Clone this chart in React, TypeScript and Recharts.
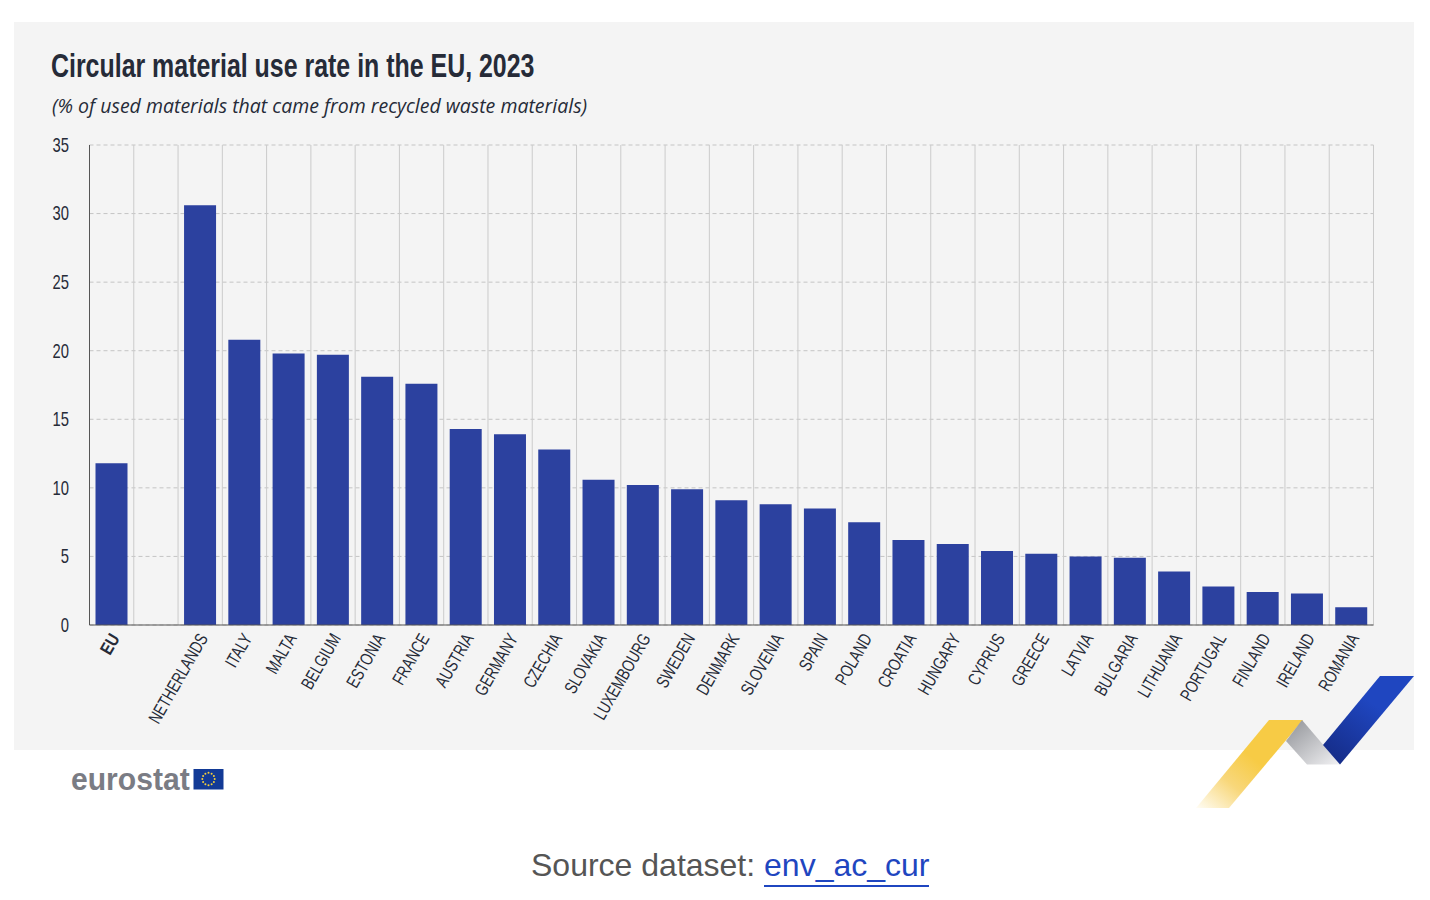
import React from "react";
import { BarChart, Bar, XAxis, YAxis, CartesianGrid } from "recharts";

const categories = ["EU", " ", "NETHERLANDS", "ITALY", "MALTA", "BELGIUM", "ESTONIA", "FRANCE", "AUSTRIA", "GERMANY", "CZECHIA", "SLOVAKIA", "LUXEMBOURG", "SWEDEN", "DENMARK", "SLOVENIA", "SPAIN", "POLAND", "CROATIA", "HUNGARY", "CYPRUS", "GREECE", "LATVIA", "BULGARIA", "LITHUANIA", "PORTUGAL", "FINLAND", "IRELAND", "ROMANIA"];
const values: (number | null)[] = [11.8, null, 30.6, 20.8, 19.8, 19.7, 18.1, 17.6, 14.3, 13.9, 12.8, 10.6, 10.2, 9.9, 9.1, 8.8, 8.5, 7.5, 6.2, 5.9, 5.4, 5.2, 5.0, 4.9, 3.9, 2.8, 2.4, 2.3, 1.3];
const yTicks = [0, 5, 10, 15, 20, 25, 30, 35];
const data = categories.map((name, i) => ({ name, value: values[i] }));

const SANS = '"Liberation Sans", sans-serif';
const INK = "#262b38";

const XTick = (props: any) => {
  const { x, y, payload } = props;
  const isEu = payload.value === "EU";
  return (
    <text
      transform={`translate(${x + 3} ${y + 2}) rotate(-60) scale(${isEu ? 0.82 : 0.75} 1)`}
      textAnchor="end"
      dominantBaseline="central"
      fontFamily={SANS}
      fontSize={18}
      fontWeight={isEu ? 700 : 400}
      fill={INK}
    >
      {payload.value}
    </text>
  );
};

const YTick = (props: any) => {
  const { y, payload } = props;
  return (
    <text transform={`translate(69 ${y}) scale(0.74 1)`} textAnchor="end" dominantBaseline="central" fontFamily={SANS} fontSize={20} fill={INK}>
      {payload.value}
    </text>
  );
};

const bandLines = ({ offset }: any) =>
  Array.from({ length: categories.length + 1 }, (_, i) => offset.left + (i * offset.width) / categories.length);

const stars = Array.from({ length: 12 }, (_, i) => i);

export default function App() {
  return (
    <div style={{ position: "absolute", left: 0, top: 0, width: 1430, height: 900, background: "#fff", overflow: "hidden" }}>
      <div style={{ position: "absolute", left: 14, top: 22, width: 1400, height: 728, background: "#f4f4f4" }} />
      <svg width={1430} height={900} style={{ position: "absolute", left: 0, top: 0 }}>
        <defs>
          <linearGradient id="yel" x1="0" y1="1" x2="0.55" y2="0.45">
            <stop offset="0" stopColor="#fffdf5" />
            <stop offset="0.55" stopColor="#f8d77a" />
            <stop offset="1" stopColor="#f7cb45" />
          </linearGradient>
          <linearGradient id="gry" x1="0" y1="0" x2="1" y2="1">
            <stop offset="0" stopColor="#8f9196" />
            <stop offset="1" stopColor="#f2f2f4" />
          </linearGradient>
          <linearGradient id="blu" x1="0.1" y1="1" x2="0.6" y2="0.35">
            <stop offset="0" stopColor="#152b85" />
            <stop offset="1" stopColor="#1f46c0" />
          </linearGradient>
        </defs>
        <polygon points="1269,720 1303,720 1229,808 1196,808" fill="url(#yel)" />
        <polygon points="1302,720 1340,764.5 1307,764.5 1286,741" fill="url(#gry)" />
        <polygon points="1380,676 1414,676 1340,764.5 1323,745" fill="url(#blu)" />
        <rect x={193.5} y={769} width={30} height={20.5} fill="#123a96" />
        {stars.map((i) => (
          <circle
            key={i}
            cx={208.5 + 6.2 * Math.sin((i * Math.PI) / 6)}
            cy={779 + 6.2 * Math.cos((i * Math.PI) / 6)}
            r={1}
            fill="#f5cf3a"
          />
        ))}
      </svg>

      <div style={{ position: "absolute", left: 51, top: 44, fontFamily: SANS, fontWeight: 700, fontSize: 34, lineHeight: "42px", color: INK, whiteSpace: "nowrap", transform: "scaleX(0.733)", transformOrigin: "0 0" }}>
        Circular material use rate in the EU, 2023
      </div>
      <div style={{ position: "absolute", left: 52, top: 93, fontFamily: '"Open Sans", sans-serif', fontStyle: "italic", fontSize: 19.5, lineHeight: "26px", color: INK, whiteSpace: "nowrap" }}>
        (% of used materials that came from recycled waste materials)
      </div>

      <div style={{ position: "absolute", left: 0, top: 0 }}>
        <BarChart width={1430} height={900} data={data} margin={{ top: 145, right: 56.5, bottom: 0, left: 0 }} barCategoryGap={6} style={{ background: "transparent" }}>
          <CartesianGrid horizontal vertical={false} stroke="#c4c4c4" strokeDasharray="4 3" />
          <CartesianGrid horizontal={false} vertical stroke="#cbcbcb" strokeWidth={1} verticalCoordinatesGenerator={bandLines} />
          <XAxis dataKey="name" interval={0} height={275} tick={<XTick />} tickLine={false} axisLine={{ stroke: "#555", strokeWidth: 1 }} />
          <YAxis width={89.5} domain={[0, 35]} ticks={yTicks} tick={<YTick />} tickLine={false} axisLine={{ stroke: "#555", strokeWidth: 1 }} />
          <Bar dataKey="value" fill="#2c419f" isAnimationActive={false} />
        </BarChart>
      </div>

      <div style={{ position: "absolute", left: 71, top: 761, fontFamily: SANS, fontWeight: 700, fontSize: 32, lineHeight: "36px", color: "#7a7c84", whiteSpace: "nowrap", transform: "scaleX(0.94)", transformOrigin: "0 0" }}>
        eurostat
      </div>
      <div style={{ position: "absolute", left: 531, top: 846, fontFamily: SANS, fontSize: 32, lineHeight: "38px", color: "#555", whiteSpace: "nowrap" }}>
        Source dataset: <span style={{ color: "#1f46c0", borderBottom: "2px solid #1f46c0", paddingBottom: 2 }}>env_ac_cur</span>
      </div>
    </div>
  );
}
